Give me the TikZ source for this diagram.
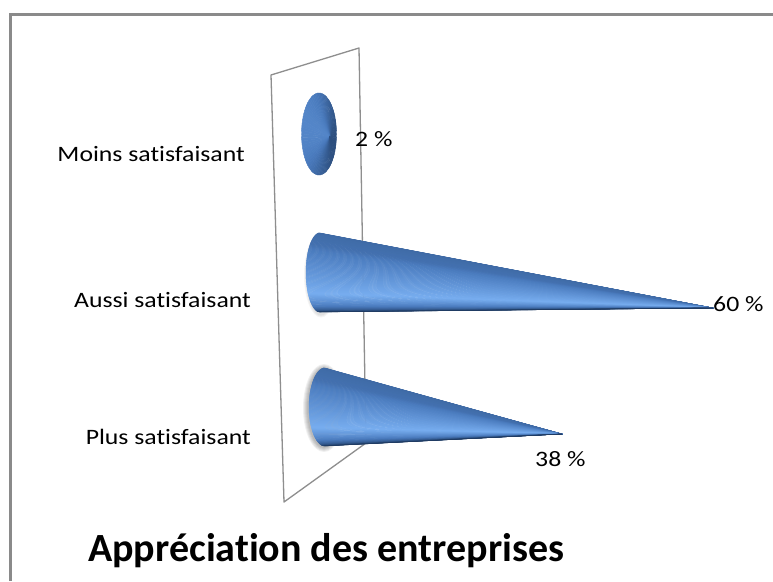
\documentclass[tikz,border=0pt]{standalone}
\usepackage{fontspec}
\setmainfont[Ligatures=NoCommon]{Carlito}
\newfontfamily\lblfont[FakeStretch=1.17,Ligatures=NoCommon]{Carlito}
\newfontfamily\ttlfont[Ligatures=NoCommon]{Carlito}
\definecolor{framecol}{HTML}{8A8A8A}
\definecolor{planecol}{HTML}{8E8E8E}
\definecolor{cdark}{HTML}{1A3357}
\definecolor{cmid}{HTML}{4A7BBE}
\definecolor{clight}{HTML}{78AEF0}
\newcommand\setconecol[1]{%
  \pgfmathsetmacro\bb{#1}%
  \ifdim\bb pt<50pt
    \pgfmathtruncatemacro\pp{2*\bb}\colorlet{cc}{cmid!\pp!cdark}%
  \else
    \pgfmathtruncatemacro\pp{min(100,2*(\bb-50))}\colorlet{cc}{clight!\pp!cmid}%
  \fi}
% cx cy rx ry tx ty
\newcommand\drawcone[6]{%
  \foreach \i in {1,...,100}{%
    \pgfmathsetmacro\sa{(\i-1)/100}%
    \pgfmathsetmacro\sb{\i/100}%
    \pgfmathsetmacro\sm{(\sa+\sb)/2}%
    \pgfmathsetmacro\bv{\sm<0.25 ? 38+20*\sm : (\sm<0.68 ? 43+(\sm-0.25)*132 : (\sm<0.85 ? 100-(\sm-0.68)*330 : 44-(\sm-0.85)*267))}%
    \setconecol{\bv}%
    \filldraw[fill=cc, draw=cc, line width=0.4pt] (#5,#6) -- ({#1-#3*sin(180*\sa)},{#2-#4*cos(180*\sa)}) -- ({#1-#3*sin(180*\sb)},{#2-#4*cos(180*\sb)}) -- cycle;
  }}
\tikzset{
  lbl/.style={font=\lblfont\fontsize{22}{26}\selectfont, inner sep=0pt, text=black},
  ttl/.style={font=\ttlfont\bfseries\fontsize{40}{46}\selectfont, inner sep=0pt, text=black},
  plane/.style={draw=planecol, line width=1.3pt, line join=round},
  frame/.style={draw=framecol, line width=3pt}
}
\begin{document}
\begin{tikzpicture}[x=1pt,y=-1pt]
\useasboundingbox (0,0) rectangle (773,581);
\fill[white] (0,0) rectangle (773,581);
% frame
\draw[frame] (10.3,581) -- (10.3,14.7) -- (773,14.7);
% back plane
\draw[plane] (271,75) -- (359,48) -- (366,443) -- (284,502) -- cycle;
% shadows
\foreach \k in {1,...,5}{
  \fill[black, opacity=0.06] (324,408) ellipse ({16+\k} and {39+\k});
}
\foreach \k in {1,...,3}{
  \fill[black, opacity=0.04] (321,275) ellipse ({14+\k} and {39.5+\k});
}
% 2 % (small ellipse seen head-on)
\foreach \i in {1,...,72}{
  \pgfmathsetmacro\fa{5*(\i-1)}
  \pgfmathsetmacro\fb{5*\i}
  \pgfmathsetmacro\fm{5*\i-2.5}
  \pgfmathsetmacro\bv{40-20*cos(\fm)+5*sin(\fm)}
  \setconecol{\bv}
  \filldraw[fill=cc, draw=cc, line width=0.4pt] (330,137) -- ({319+17.5*cos(\fa)},{134-41*sin(\fa)}) -- ({319+17.5*cos(\fb)},{134-41*sin(\fb)}) -- cycle;
}
% 60 % cone
\drawcone{320}{272.5}{14}{39.5}{713}{308}
% 38 % cone
\drawcone{325}{407}{16}{39}{562}{434}
% labels
\node[lbl, anchor=base east] (moins) at (245,161) {Moins satisfaisant};
\node[lbl, anchor=base east] (aussi) at (251,307) {Aussi satisfaisant};
\node[lbl, anchor=base east] (plus) at (251,444) {Plus satisfaisant};
\node[lbl, anchor=base west] (v2) at (355,146) {2 \%};
\node[lbl, anchor=base west] (v60) at (713,311) {60 \%};
\node[lbl, anchor=base west] (v38) at (535,466) {38 \%};
\node[ttl, anchor=base west] (title) at (88,561) {Appréciation des entreprises};
\end{tikzpicture}
\end{document}
